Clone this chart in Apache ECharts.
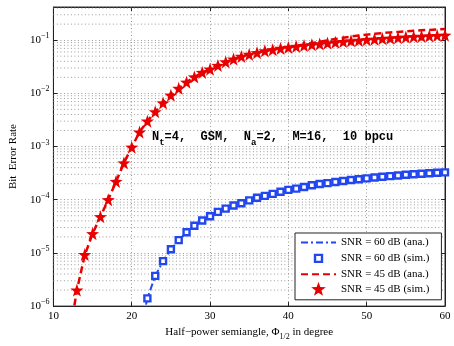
<!DOCTYPE html>
<html>
<head>
<meta charset="utf-8">
<script src="https://cdn.jsdelivr.net/npm/echarts@6/dist/echarts.min.js"></script>
<style>
  html, body { margin: 0; padding: 0; background: #fff; }
  #chart { width: 454px; height: 346px; }
</style>
</head>
<body>
<div id="chart"></div>
<script>
// half-power semiangle (degrees)
const anglesRed = [13, 14, 15, 16, 17, 18, 19, 20, 21, 22, 23, 24, 25, 26, 27, 28, 29, 30,
  31, 32, 33, 34, 35, 36, 37, 38, 39, 40, 41, 42, 43, 44, 45, 46, 47, 48, 49, 50,
  51, 52, 53, 54, 55, 56, 57, 58, 59, 60];
const anglesBlue = [22, 23, 24, 25, 26, 27, 28, 29, 30, 31, 32, 33, 34, 35, 36, 37, 38, 39, 40,
  41, 42, 43, 44, 45, 46, 47, 48, 49, 50, 51, 52, 53, 54, 55, 56, 57, 58, 59, 60];

// SNR = 45 dB, simulation
const ber45Sim = [2.0e-6, 9.3e-6, 2.3e-5, 4.8e-5, 1.0e-4, 2.2e-4, 4.9e-4, 9.7e-4, 1.87e-3, 3.0e-3,
  4.5e-3, 6.6e-3, 9.2e-3, 1.24e-2, 1.62e-2, 2.03e-2, 2.47e-2, 2.85e-2, 3.35e-2, 3.9e-2,
  4.4e-2, 4.95e-2, 5.4e-2, 5.8e-2, 6.3e-2, 6.6e-2, 7.0e-2, 7.3e-2, 7.6e-2, 7.9e-2,
  8.2e-2, 8.5e-2, 8.8e-2, 9.1e-2, 9.4e-2, 9.7e-2, 9.9e-2, 0.102, 0.104, 0.107,
  0.109, 0.111, 0.114, 0.116, 0.118, 0.120, 0.122, 0.124];
// SNR = 45 dB, analytical
const anglesRedAna = [12].concat(anglesRed);
const ber45Ana = [2.5e-7, 2.0e-6, 9.0e-6, 2.3e-5, 4.8e-5, 1.0e-4, 2.2e-4, 4.9e-4, 9.7e-4, 1.87e-3, 3.0e-3,
  4.5e-3, 6.6e-3, 9.2e-3, 1.24e-2, 1.62e-2, 2.03e-2, 2.47e-2, 2.85e-2, 3.35e-2, 3.9e-2,
  4.4e-2, 4.95e-2, 5.4e-2, 5.8e-2, 6.3e-2, 6.6e-2, 7.0e-2, 7.3e-2, 7.8e-2, 8.3e-2,
  8.8e-2, 9.3e-2, 9.9e-2, 0.105, 0.111, 0.117, 0.122, 0.127, 0.132, 0.136,
  0.140, 0.143, 0.147, 0.150, 0.153, 0.156, 0.159, 0.162];

// SNR = 60 dB, simulation
const ber60Sim = [1.4e-6, 3.7e-6, 7.0e-6, 1.17e-5, 1.74e-5, 2.45e-5, 3.25e-5, 4.08e-5, 4.9e-5,
  5.9e-5, 6.8e-5, 7.8e-5, 8.6e-5, 9.7e-5, 1.09e-4, 1.18e-4, 1.29e-4, 1.41e-4, 1.53e-4,
  1.62e-4, 1.74e-4, 1.87e-4, 1.98e-4, 2.05e-4, 2.15e-4, 2.25e-4, 2.35e-4, 2.42e-4, 2.52e-4,
  2.62e-4, 2.70e-4, 2.78e-4, 2.86e-4, 2.94e-4, 3.01e-4, 3.08e-4, 3.15e-4, 3.21e-4, 3.27e-4];
// SNR = 60 dB, analytical
const anglesBlueAna = [21].concat(anglesBlue);
const ber60Ana = [3.0e-7].concat(ber60Sim);

const xTicks = [10, 20, 30, 40, 50, 60];
const yDecades = [-6, -5, -4, -3, -2, -1];
const Y_MAX = 0.42;

const pairs = (xs, ys) => xs.map((x, i) => [x, ys[i]]);

const SERIF = "'Liberation Serif', 'DejaVu Serif', serif";
const BLUE = '#2347ee';
const RED = '#e80000';
const STAR = 'path://M0,-10 L2.35,-3.24 L9.51,-3.09 L3.8,1.24 L5.88,8.09 L0,4 L-5.88,8.09 L-3.8,1.24 L-9.51,-3.09 L-2.35,-3.24 Z';
const SQUARE_ICON = 'path://M0,0 M14,14 M3.5,3.5 L10.5,3.5 L10.5,10.5 L3.5,10.5 Z';

// minor log grid (2..9 x 10^k), drawn as broken line segments across the plot
const minorGrid = [];
yDecades.forEach(k => {
  for (let m = 2; m <= 9; m++) {
    const v = m * Math.pow(10, k);
    if (v < Y_MAX) {
      minorGrid.push([xTicks[0], v], [xTicks[xTicks.length - 1], v], [xTicks[0], null]);
    }
  }
});

const gridDots = { color: '#9a9a9a', width: 1, type: [1, 2.5] };

const yLabel = (v) => {
  const e = Math.log10(v);
  if (Math.abs(e - Math.round(e)) > 1e-6) return '';
  return '{b|10}{e|\u2212' + Math.abs(Math.round(e)) + '}';
};

const chart = echarts.init(document.getElementById('chart'), null, { renderer: 'canvas' });

chart.setOption({
  animation: false,
  backgroundColor: '#fff',
  title: {
    text: 'N{s|t}=4,  GSM,  N{s|a}=2,  M=16,  10 bpcu',
    left: 152,
    top: 126,
    padding: 0,
    textStyle: {
      fontFamily: "'Liberation Mono', 'DejaVu Sans Mono', monospace",
      fontWeight: 'bold',
      fontSize: 12,
      color: '#000',
      rich: {
        s: {
          fontFamily: "'Liberation Mono', monospace",
          fontWeight: 'bold',
          fontSize: 9,
          padding: [12, 0, 0, 0]
        }
      }
    }
  },
  grid: {
    left: 44, right: 9, top: 7, bottom: 36,
    show: true,
    borderColor: '#333',
    borderWidth: 1
  },
  legend: {
    orient: 'vertical',
    left: 295,
    top: 233,
    padding: [4, 12, 4, 5],
    itemGap: 2,
    itemWidth: 35,
    itemHeight: 14,
    backgroundColor: '#fff',
    borderColor: '#222',
    borderWidth: 1,
    borderRadius: 0,
    textStyle: { fontFamily: SERIF, fontSize: 11, color: '#000' },
    data: [
      { name: 'SNR = 60 dB (ana.)', itemStyle: { opacity: 0 } },
      { name: 'SNR = 60 dB (sim.)', icon: SQUARE_ICON, itemStyle: { borderWidth: 2.4 } },
      { name: 'SNR = 45 dB (ana.)', itemStyle: { opacity: 0 } },
      { name: 'SNR = 45 dB (sim.)' }
    ]
  },
  xAxis: [{
    type: 'value',
    min: 10, max: 60, interval: 10,
    name: 'Half\u2212power semiangle, \u03A6{s|1/2} in degree',
    nameLocation: 'middle',
    nameGap: 15,
    nameTextStyle: {
      fontFamily: SERIF, fontSize: 11, color: '#000',
      rich: { s: { fontFamily: SERIF, fontSize: 8, padding: [9, 0, 0, 0] } }
    },
    axisLine: { lineStyle: { color: '#222', width: 1 } },
    axisTick: { inside: true, length: 4, lineStyle: { color: '#222' } },
    axisLabel: { fontFamily: SERIF, fontSize: 11, color: '#000', margin: 5 },
    splitLine: { show: true, lineStyle: gridDots }
  }, {
    type: 'value',
    position: 'top',
    min: 10, max: 60, interval: 10,
    axisLine: { lineStyle: { color: '#222', width: 1 } },
    axisTick: { inside: true, length: 4, lineStyle: { color: '#222' } },
    axisLabel: { show: false },
    splitLine: { show: false }
  }],
  yAxis: [{
    type: 'log',
    logBase: 10,
    min: 1e-6,
    max: Y_MAX,
    splitNumber: 6,
    name: 'Bit  Error Rate',
    nameLocation: 'middle',
    nameGap: 29,
    nameTextStyle: { fontFamily: SERIF, fontSize: 11, color: '#000' },
    axisLine: { show: true, lineStyle: { color: '#222', width: 1 } },
    axisTick: { inside: true, length: 4, lineStyle: { color: '#222' } },
    axisLabel: {
      fontFamily: SERIF, fontSize: 11, color: '#000', margin: 4,
      formatter: yLabel,
      rich: {
        b: { fontFamily: SERIF, fontSize: 11 },
        e: { fontFamily: SERIF, fontSize: 8, padding: [0, 0, 8, 0] }
      }
    },
    splitLine: { show: true, lineStyle: gridDots }
  }, {
    type: 'log',
    logBase: 10,
    position: 'right',
    min: 1e-6,
    max: Y_MAX,
    splitNumber: 6,
    axisLine: { show: true, lineStyle: { color: '#222', width: 1 } },
    axisTick: { inside: true, length: 4, lineStyle: { color: '#222' } },
    axisLabel: { show: false },
    splitLine: { show: false }
  }],
  series: [
    {
      name: 'minor-grid',
      type: 'line',
      data: minorGrid,
      symbol: 'none',
      silent: true,
      connectNulls: false,
      lineStyle: gridDots,
      z: 1
    },
    {
      name: 'SNR = 60 dB (ana.)',
      type: 'line',
      data: pairs(anglesBlueAna, ber60Ana),
      symbol: 'none',
      lineStyle: { color: BLUE, width: 2, type: [7, 3, 2, 3] },
      itemStyle: { color: BLUE },
      z: 3
    },
    {
      name: 'SNR = 60 dB (sim.)',
      type: 'scatter',
      data: pairs(anglesBlue, ber60Sim),
      symbol: 'rect',
      symbolSize: 6,
      itemStyle: { color: '#fff', borderColor: BLUE, borderWidth: 2.4, opacity: 1 },
      z: 4
    },
    {
      name: 'SNR = 45 dB (ana.)',
      type: 'line',
      data: pairs(anglesRedAna, ber45Ana),
      symbol: 'none',
      lineStyle: { color: RED, width: 2.5, type: [7, 4] },
      itemStyle: { color: RED },
      z: 5
    },
    {
      name: 'SNR = 45 dB (sim.)',
      type: 'scatter',
      data: pairs(anglesRed, ber45Sim),
      symbol: STAR,
      symbolSize: 13,
      itemStyle: { color: RED, opacity: 1 },
      z: 4
    }
  ]
});

window.addEventListener('resize', () => chart.resize());
</script>
</body>
</html>
